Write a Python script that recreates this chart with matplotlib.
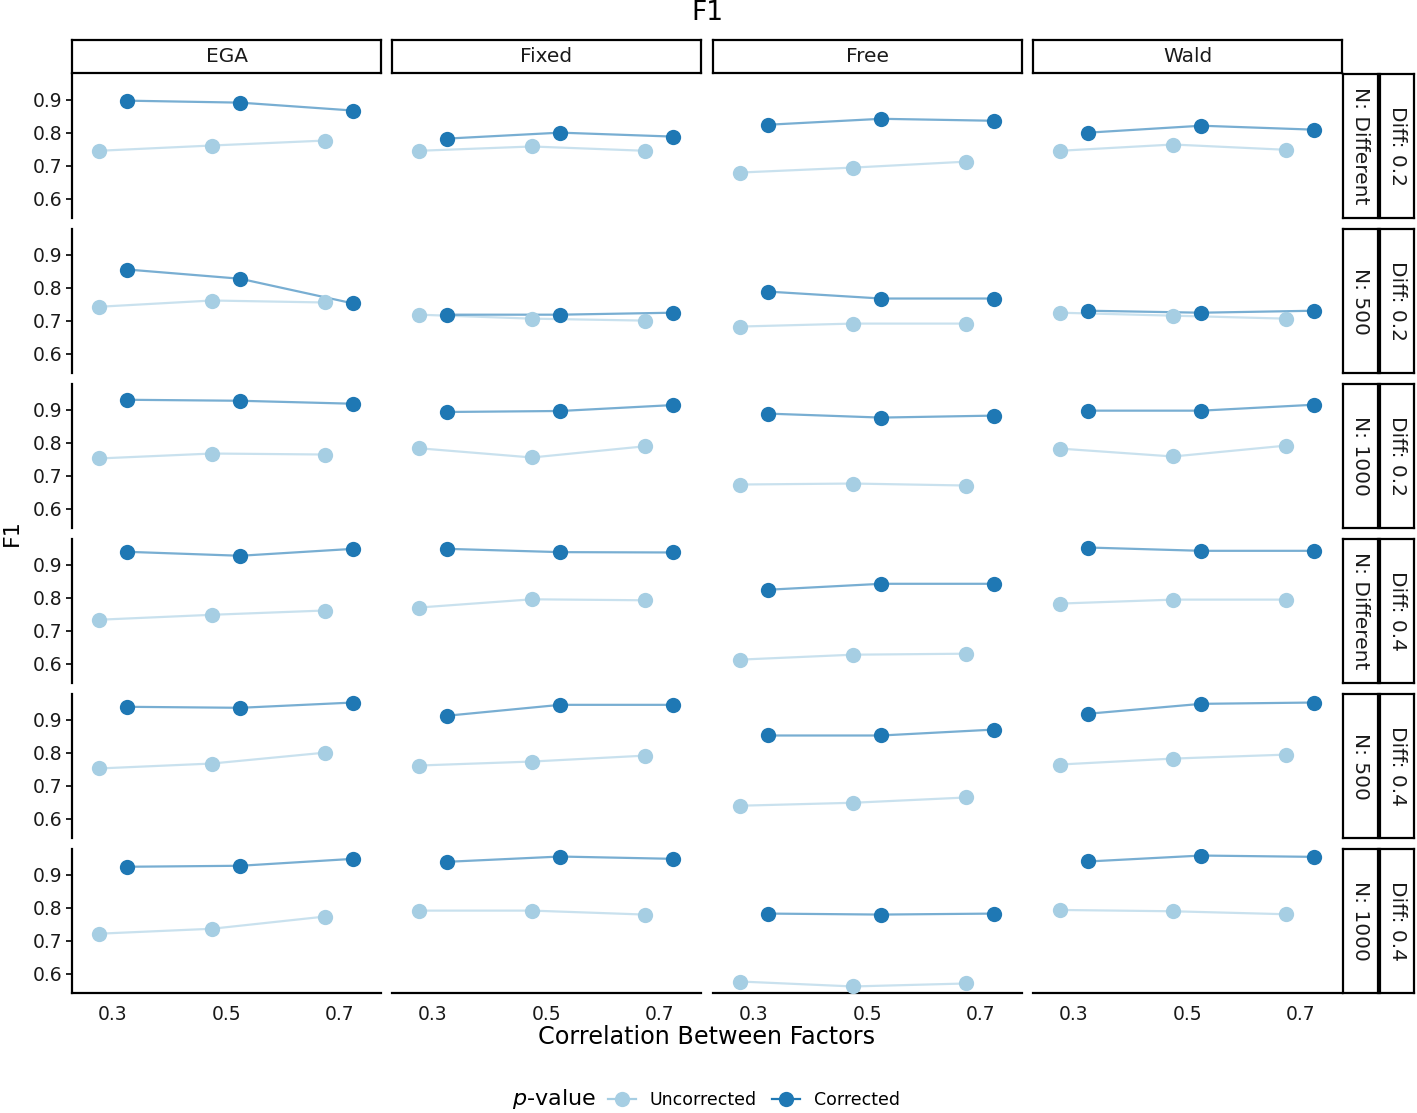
import numpy as np
import matplotlib
matplotlib.use("Agg")
import matplotlib.pyplot as plt
from matplotlib.lines import Line2D

# facet labels
methods = ["EGA", "Fixed", "Free", "Wald"]
row_n = ["N: Different", "N: 500", "N: 1000", "N: Different", "N: 500", "N: 1000"]
row_diff = ["Diff: 0.2", "Diff: 0.2", "Diff: 0.2", "Diff: 0.4", "Diff: 0.4", "Diff: 0.4"]
correlations = [0.3, 0.5, 0.7]

# F1 per row (one list per facet row, values for correlation 0.3 / 0.5 / 0.7)
ega_unc = [[0.745, 0.761, 0.776], [0.742, 0.761, 0.755], [0.752, 0.767, 0.764],
           [0.733, 0.748, 0.761], [0.752, 0.767, 0.800], [0.721, 0.736, 0.773]]
ega_cor = [[0.897, 0.891, 0.867], [0.855, 0.827, 0.752], [0.930, 0.927, 0.918],
           [0.939, 0.927, 0.948], [0.939, 0.936, 0.952], [0.924, 0.927, 0.948]]
fixed_unc = [[0.745, 0.758, 0.745], [0.718, 0.706, 0.700], [0.783, 0.755, 0.789],
             [0.770, 0.795, 0.792], [0.761, 0.773, 0.791], [0.791, 0.791, 0.779]]
fixed_cor = [[0.782, 0.800, 0.788], [0.718, 0.718, 0.724], [0.893, 0.896, 0.914],
             [0.948, 0.938, 0.937], [0.912, 0.945, 0.945], [0.939, 0.955, 0.948]]
free_unc = [[0.679, 0.694, 0.712], [0.682, 0.691, 0.691], [0.673, 0.676, 0.670],
            [0.612, 0.627, 0.630], [0.639, 0.648, 0.664], [0.576, 0.561, 0.570]]
free_cor = [[0.824, 0.842, 0.836], [0.788, 0.767, 0.767], [0.888, 0.876, 0.882],
            [0.824, 0.842, 0.842], [0.852, 0.852, 0.870], [0.782, 0.779, 0.782]]
wald_unc = [[0.745, 0.764, 0.748], [0.724, 0.715, 0.706], [0.782, 0.758, 0.791],
            [0.782, 0.794, 0.794], [0.764, 0.782, 0.794], [0.793, 0.789, 0.780]]
wald_cor = [[0.800, 0.821, 0.809], [0.730, 0.724, 0.730], [0.897, 0.897, 0.915],
            [0.952, 0.942, 0.942], [0.918, 0.948, 0.952], [0.940, 0.958, 0.954]]

uncorrected = {"EGA": ega_unc, "Fixed": fixed_unc, "Free": free_unc, "Wald": wald_unc}
corrected = {"EGA": ega_cor, "Fixed": fixed_cor, "Free": free_cor, "Wald": wald_cor}

col_unc = "#a6cee3"
col_cor = "#1f78b4"

W, H = 1417, 1113
fig = plt.figure(figsize=(W / 100, H / 100), dpi=100)


def box(x0, y0, x1, y1):
    # pixel box (top-left origin) -> figure fraction rect
    return [x0 / W, 1 - y1 / H, (x1 - x0) / W, (y1 - y0) / H]


def strip(x0, y0, x1, y1, text, rot=0):
    ax = fig.add_axes(box(x0, y0, x1, y1))
    ax.set_xticks([])
    ax.set_yticks([])
    for s in ax.spines.values():
        s.set_linewidth(1.6)
        s.set_color("black")
    ax.text(0.5, 0.5, text, ha="center", va="center", rotation=rot,
            fontsize=14.5, color="#1a1a1a", transform=ax.transAxes)


all_vals = np.concatenate([np.ravel(v) for v in list(uncorrected.values()) + list(corrected.values())])
pad = (all_vals.max() - all_vals.min()) * 0.05
ylim = (all_vals.min() - pad, all_vals.max() + pad)

col_left = [72, 392, 713, 1033]
col_w = 309
row_top = [74 + i * 155 for i in range(6)]
row_h = 144
dodge = 0.025
x = np.array(correlations)

for r in range(6):
    for c, m in enumerate(methods):
        x0 = col_left[c]
        y0 = row_top[r]
        ax = fig.add_axes(box(x0, y0, x0 + col_w, y0 + row_h))
        unc = uncorrected[m][r]
        cor = corrected[m][r]
        ax.plot(x - dodge, unc, color=col_unc, alpha=0.6, lw=1.6, zorder=2)
        ax.plot(x + dodge, cor, color=col_cor, alpha=0.6, lw=1.6, zorder=2)
        ax.plot(x - dodge, unc, "o", color=col_unc, ms=11, mew=0, zorder=3)
        ax.plot(x + dodge, cor, "o", color=col_cor, ms=11, mew=0, zorder=4)
        ax.set_xlim(0.2274, 0.774)
        ax.set_ylim(*ylim)
        ax.set_yticks([0.6, 0.7, 0.8, 0.9])
        ax.set_xticks(correlations)
        ax.spines["top"].set_visible(False)
        ax.spines["right"].set_visible(False)
        ax.spines["left"].set_linewidth(1.6)
        ax.spines["bottom"].set_linewidth(1.6)
        ax.tick_params(axis="y", length=4, width=1.2, labelsize=13.5,
                       labelcolor="#1a1a1a", pad=3)
        ax.tick_params(axis="x", length=0, labelsize=13.5, labelcolor="#1a1a1a", pad=9)
        ax.set_yticklabels(["0.6", "0.7", "0.8", "0.9"])
        ax.set_xticklabels(["0.3", "0.5", "0.7"])
        if c != 0:
            ax.spines["left"].set_visible(False)
            ax.tick_params(axis="y", left=False, labelleft=False)
        if r != 5:
            ax.spines["bottom"].set_visible(False)
            ax.tick_params(axis="x", bottom=False, labelbottom=False)
        ax.patch.set_alpha(0)

    strip(1343, row_top[r], 1378, row_top[r] + row_h, row_n[r], rot=-90)
    strip(1380, row_top[r], 1414, row_top[r] + row_h, row_diff[r], rot=-90)

for c, m in enumerate(methods):
    strip(col_left[c], 40, col_left[c] + col_w, 73, m)

fig.text(707 / W, 1 - 13 / H, "F1", ha="center", va="center", fontsize=19)
fig.text(12 / W, 1 - 533 / H, "F1", ha="center", va="center", rotation=90, fontsize=16)
fig.text(707 / W, 1 - 1037 / H, "Correlation Between Factors", ha="center",
         va="center", fontsize=17.2)

# legend: title on the left, keys side by side
fig.text(554 / W, 1 - 1099 / H, r"$p$-value", ha="center", va="center", fontsize=16)
handles = [
    Line2D([0], [0], color=col_unc, lw=1.6, marker="o", ms=11, mew=0,
           markerfacecolor=col_unc, label="Uncorrected"),
    Line2D([0], [0], color=col_cor, lw=1.6, marker="o", ms=11, mew=0,
           markerfacecolor=col_cor, label="Corrected"),
]
fig.legend(handles=handles, loc="center", bbox_to_anchor=(754 / W, 1 - 1100 / H),
           ncol=2, frameon=False, fontsize=12.5, handlelength=1.6,
           handletextpad=0.8, columnspacing=0.9, borderpad=0)

fig.savefig("out.png", dpi=100)
